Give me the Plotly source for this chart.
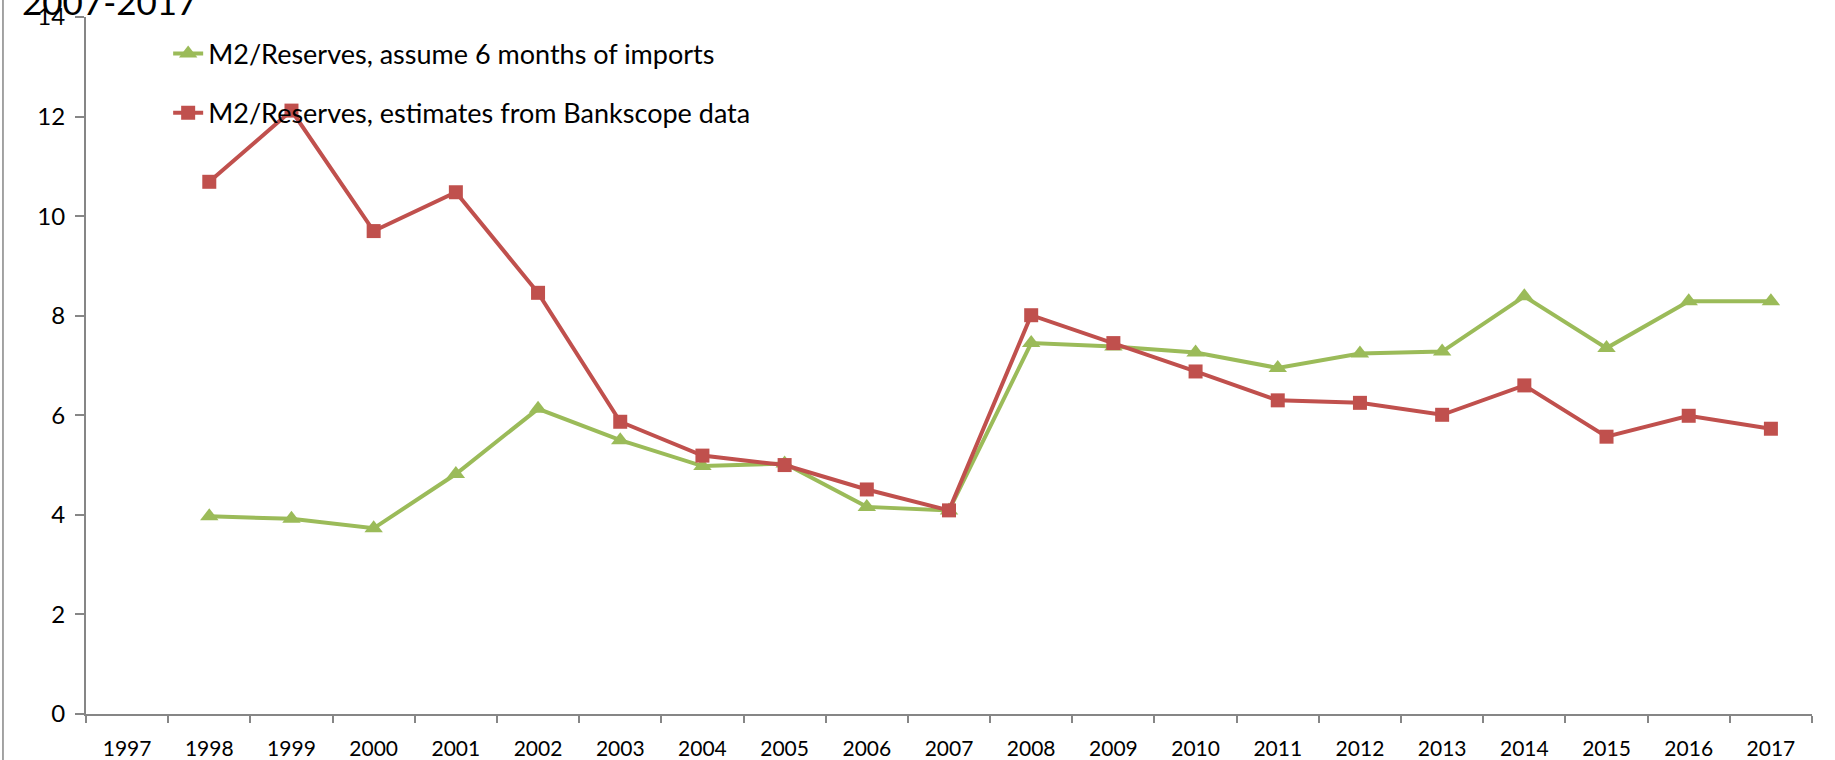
import plotly.graph_objects as go

years = [str(y) for y in range(1997, 2018)]
data_years = [str(y) for y in range(1998, 2018)]
imports_6m = [3.97, 3.92, 3.73, 4.82, 6.13, 5.50, 4.98, 5.03, 4.16, 4.09,
              7.45, 7.38, 7.26, 6.95, 7.24, 7.28, 8.39, 7.35, 8.29, 8.29]
bankscope = [10.69, 12.12, 9.70, 10.48, 8.46, 5.87, 5.19, 5.00, 4.51, 4.09,
             8.01, 7.45, 6.88, 6.30, 6.25, 6.01, 6.60, 5.57, 5.99, 5.73]
y_ticks = [0, 2, 4, 6, 8, 10, 12, 14]

FONT = "Lato"
AXIS = "#868686"

fig = go.Figure()
fig.add_trace(go.Scatter(
    x=data_years, y=imports_6m, mode="lines+markers",
    name="M2/Reserves, assume 6 months of imports", legendgroup="a",
    line=dict(color="#9BBB59", width=4),
    marker=dict(symbol="triangle-up", size=16, color="#9BBB59"),
))
fig.add_trace(go.Scatter(
    x=data_years, y=bankscope, mode="lines+markers",
    name="M2/Reserves, estimates from Bankscope data", legendgroup="b",
    line=dict(color="#C0504D", width=4),
    marker=dict(symbol="square", size=14, color="#C0504D"),
))

fig.update_layout(
    width=1835, height=760,
    margin=dict(l=86, r=23, t=17, b=46, autoexpand=False),
    paper_bgcolor="white", plot_bgcolor="white",
    font=dict(family=FONT, size=20, color="black"),
    showlegend=True,
    legend=dict(x=0.0476, y=0.982, xanchor="left", yanchor="top",
                bgcolor="rgba(0,0,0,0)", font=dict(size=27, family=FONT),
                traceorder="grouped", tracegroupgap=21, itemwidth=30),
    xaxis=dict(type="category", categoryorder="array", categoryarray=years,
               tickvals=years, ticktext=years, range=[-0.5, 20.5],
               automargin=False,
               showline=True, linecolor=AXIS, linewidth=2,
               ticks="outside", tickson="boundaries", ticklen=7,
               tickcolor=AXIS, tickwidth=1.5, showgrid=False, zeroline=False,
               ticklabelstandoff=15,
               tickfont=dict(size=21, family=FONT)),
    yaxis=dict(range=[0, 14], tickvals=y_ticks, showline=True,
               automargin=False,
               linecolor=AXIS, linewidth=2, ticks="outside", ticklen=9,
               tickcolor=AXIS, tickwidth=1.5, showgrid=False, zeroline=False,
               ticklabelstandoff=5,
               tickfont=dict(size=24, family=FONT)),
    shapes=[dict(type="line", xref="paper", yref="paper",
                 x0=-0.0481, x1=-0.0481, y0=-0.07, y1=1.03,
                 line=dict(color=AXIS, width=1.5))],
    annotations=[dict(text="2007-2017", xref="paper", yref="paper",
                      x=-0.0385, y=1.0, xanchor="left", yanchor="bottom",
                      yshift=-7, showarrow=False,
                      font=dict(size=35, family=FONT, color="black"))],
)

fig.write_html("out.html",
               config={"displayModeBar": False},
               post_script="document.body.style.margin='0';"
                           "document.body.style.overflow='hidden';")
